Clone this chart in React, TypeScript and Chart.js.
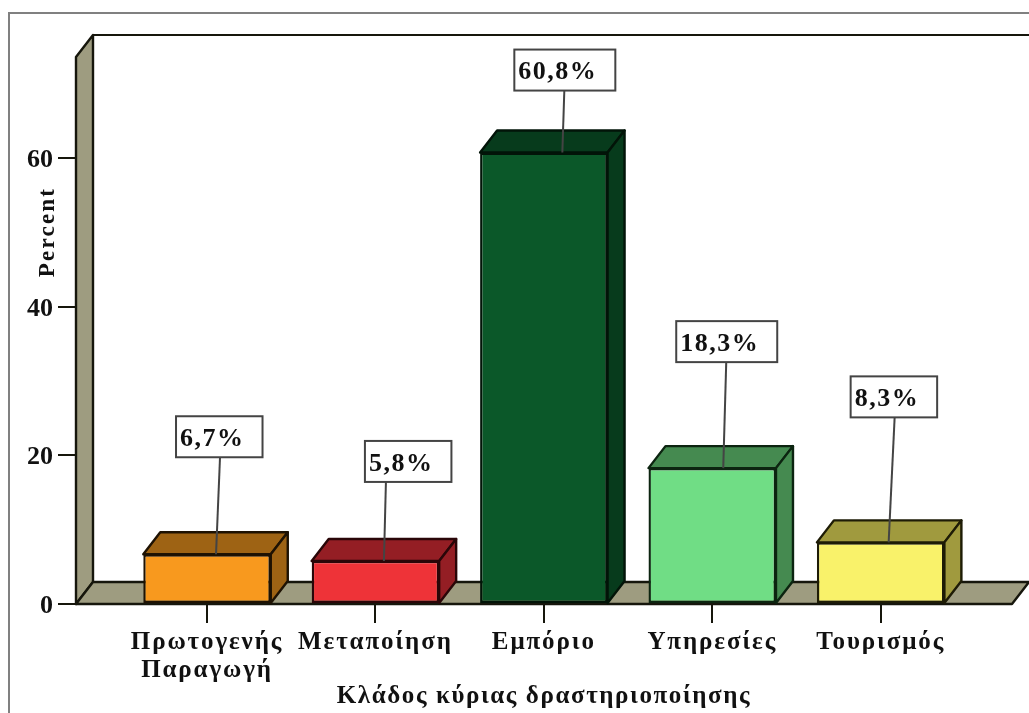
import React, { useEffect, useRef } from "react";
import { Chart, registerables } from "chart.js";

Chart.register(...registerables);

const categories: string[][] = [["Πρωτογενής", "Παραγωγή"], ["Μεταποίηση"], ["Εμπόριο"], ["Υπηρεσίες"], ["Τουρισμός"]];
const percents = [6.7, 5.8, 60.8, 18.3, 8.3];
const percentLabels = ["6,7%", "5,8%", "60,8%", "18,3%", "8,3%"];
const yTitle = "Percent";
const xTitle = "Κλάδος κύριας δραστηριοποίησης";

const frontColors = ["#F8991E", "#EE3338", "#0B5829", "#70DD85", "#F9F26A"];
const shadeColors = ["#9E6314", "#941E24", "#073B1C", "#458A50", "#A09A3E"];
const edgeColors = ["#1E1203", "#2A0608", "#021408", "#0C2410", "#1E1C06"];

// callout placement relative to each bar's front top edge / centre (px)
const calloutLeft = [-31, -10.5, -29.5, -36, -30];
const calloutRise = [97, 79, 62, 106, 125];
const leaderTop = [44, 21, 50, 50, 44];
const leaderFoot = [9, 8.5, 18.5, 11, 8];

const DEPTH_X = 17;
const DEPTH_Y = 22;
const FONT = '"Liberation Serif", serif';
const WALL = "#9E9C80";
const INK = "#16160C";

function poly(ctx: CanvasRenderingContext2D, pts: number[][], fill: string, stroke: string) {
  ctx.beginPath();
  pts.forEach((p, i) => (i ? ctx.lineTo(p[0], p[1]) : ctx.moveTo(p[0], p[1])));
  ctx.closePath();
  ctx.fillStyle = fill;
  ctx.fill();
  ctx.strokeStyle = stroke;
  ctx.lineWidth = 2.4;
  ctx.stroke();
}

// canvas letter spacing is plain context state, so each text layer gets its own
function withSpacing(scale: any, method: string, ctx: CanvasRenderingContext2D, spacing: string) {
  const original = scale[method];
  scale[method] = function (...args: any[]) {
    ctx.save();
    (ctx as any).letterSpacing = spacing;
    original.apply(this, args);
    ctx.restore();
  };
}

const spssScene = {
  id: "spssScene",
  beforeDraw(chart: any) {
    const { ctx, chartArea: a, scales } = chart;
    if (!scales.y.__spaced) {
      withSpacing(scales.x, "drawLabels", ctx, "1.9px");
      withSpacing(scales.x, "drawTitle", ctx, "1.6px");
      scales.y.__spaced = true;
    }
    ctx.save();
    ctx.strokeStyle = "#808080";
    ctx.lineWidth = 2;
    ctx.beginPath();
    ctx.moveTo(9, chart.height);
    ctx.lineTo(9, 13);
    ctx.lineTo(chart.width, 13);
    ctx.stroke();
    ctx.strokeStyle = INK;
    ctx.beginPath();
    ctx.moveTo(a.left + DEPTH_X, a.top - DEPTH_Y);
    ctx.lineTo(chart.width, a.top - DEPTH_Y);
    ctx.stroke();
    ctx.restore();
  },
  beforeDatasetsDraw(chart: any) {
    const { ctx, chartArea: a } = chart;
    const meta = chart.getDatasetMeta(0);
    ctx.save();
    ctx.lineJoin = "round";
    poly(ctx, [[a.left, a.bottom], [a.left, a.top], [a.left + DEPTH_X, a.top - DEPTH_Y], [a.left + DEPTH_X, a.bottom - DEPTH_Y]], WALL, INK);
    poly(ctx, [[a.left, a.bottom], [a.right, a.bottom], [a.right + DEPTH_X, a.bottom - DEPTH_Y], [a.left + DEPTH_X, a.bottom - DEPTH_Y]], WALL, INK);
    meta.data.forEach((bar: any, i: number) => {
      const l = bar.x - bar.width / 2;
      const r = bar.x + bar.width / 2;
      poly(ctx, [[l, bar.y], [l + DEPTH_X, bar.y - DEPTH_Y], [r + DEPTH_X, bar.y - DEPTH_Y], [r, bar.y]], shadeColors[i], edgeColors[i]);
      poly(ctx, [[r, bar.y], [r + DEPTH_X, bar.y - DEPTH_Y], [r + DEPTH_X, bar.base - DEPTH_Y], [r, bar.base]], shadeColors[i], edgeColors[i]);
    });
    ctx.restore();
  },
  afterDatasetsDraw(chart: any) {
    const { ctx } = chart;
    const meta = chart.getDatasetMeta(0);
    ctx.save();
    ctx.font = `bold 26px ${FONT}`;
    ctx.letterSpacing = "1.5px";
    ctx.textBaseline = "middle";
    ctx.textAlign = "left";
    meta.data.forEach((bar: any, i: number) => {
      const text = percentLabels[i];
      const w = ctx.measureText(text).width + 22;
      const h = 41;
      const bx = bar.x + calloutLeft[i];
      const by = bar.y - calloutRise[i] - h;
      ctx.strokeStyle = "#444444";
      ctx.lineWidth = 2;
      ctx.beginPath();
      ctx.moveTo(bx + leaderTop[i], by + h);
      ctx.lineTo(bar.x + leaderFoot[i], bar.y);
      ctx.stroke();
      ctx.fillStyle = "#FFFFFF";
      ctx.fillRect(bx, by, w, h);
      ctx.strokeRect(bx, by, w, h);
      ctx.fillStyle = "#111111";
      ctx.fillText(text, bx + 4, by + h / 2 + 2.5);
    });
    ctx.translate(48, 232);
    ctx.rotate(-Math.PI / 2);
    ctx.font = `bold 23px ${FONT}`;
    ctx.letterSpacing = "2.2px";
    ctx.textAlign = "center";
    ctx.fillText(yTitle, 0, 0);
    ctx.restore();
  },
};

export default function App() {
  const ref = useRef<HTMLCanvasElement>(null);
  useEffect(() => {
    const chart = new Chart(ref.current as HTMLCanvasElement, {
      type: "bar",
      data: {
        datasets: [
          {
            label: yTitle,
            data: percents.map((y, x) => ({ x, y })),
            backgroundColor: frontColors,
            borderColor: edgeColors,
            borderWidth: 2.4,
            borderSkipped: false,
            barPercentage: 0.757,
            categoryPercentage: 1,
          },
        ],
      },
      options: {
        animation: false,
        responsive: false,
        layout: { padding: { top: 57, right: 17, left: 0, bottom: 0 } },
        plugins: { legend: { display: false }, tooltip: { enabled: false } },
        scales: {
          x: {
            type: "linear",
            offset: false,
            min: -0.778,
            max: 4.78,
            afterFit: (s: any) => { s.height = 109; },
            afterBuildTicks: (s: any) => { s.ticks = categories.map((_, value) => ({ value })); },
            grid: { offset: false, drawOnChartArea: false, color: INK, lineWidth: 2, tickLength: 19 },
            border: { display: false },
            ticks: {
              autoSkip: false,
              maxRotation: 0,
              minRotation: 0,
              padding: 6,
              color: "#111111",
              font: { family: FONT, weight: "bold", size: 25, lineHeight: 1.12 },
              callback: (v: any) => categories[v] ?? "",
            },
            title: { display: true, text: xTitle, color: "#111111", padding: { top: 0, bottom: 1 }, font: { family: FONT, weight: "bold", size: 25 } },
          },
          y: {
            min: 0,
            max: 73.67,
            afterFit: (s: any) => { s.width = 76; },
            grid: { drawOnChartArea: false, color: INK, lineWidth: 2, tickLength: 18 },
            border: { display: false },
            ticks: { stepSize: 20, includeBounds: false, padding: 5, labelOffset: 2, color: "#111111", font: { family: FONT, weight: "bold", size: 26 } },
          },
        },
      },
      plugins: [spssScene],
    } as any);
    return () => chart.destroy();
  }, []);
  return (
    <div style={{ position: "absolute", left: 0, top: 0, width: 1029, height: 713, background: "#fff", overflow: "hidden" }}>
      <canvas ref={ref} width={1029} height={713} style={{ display: "block" }} />
    </div>
  );
}
